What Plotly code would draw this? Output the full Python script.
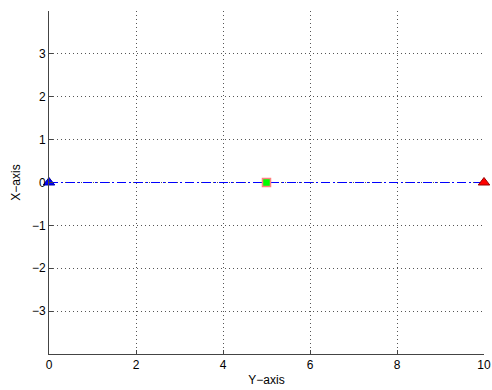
import plotly.graph_objects as go

# Path from start to end along the horizontal line
path_x = [0, 10]
path_y = [0, 0]

# Marked points: start, midpoint, end
start_pt = (0, 0)
mid_pt = (5, 0)
end_pt = (10, 0)

x_ticks = [0, 2, 4, 6, 8, 10]
y_ticks = [-3, -2, -1, 0, 1, 2, 3]

fig = go.Figure()

fig.add_trace(go.Scatter(
    x=path_x, y=path_y, mode="lines",
    line=dict(color="#0000ff", width=1, dash="9px,3px,2px,3px"),
    cliponaxis=False, showlegend=False,
))
fig.add_trace(go.Scatter(
    x=[start_pt[0]], y=[start_pt[1]], mode="markers",
    marker=dict(symbol="triangle-up", size=10, color="#0000ff",
                line=dict(color="#0000aa", width=1)),
    cliponaxis=False, showlegend=False,
))
fig.add_trace(go.Scatter(
    x=[mid_pt[0]], y=[mid_pt[1]], mode="markers",
    marker=dict(symbol="square", size=8, color="#00ff00",
                line=dict(color="#ff8080", width=1.5)),
    cliponaxis=False, showlegend=False,
))
fig.add_trace(go.Scatter(
    x=[end_pt[0]], y=[end_pt[1]], mode="markers",
    marker=dict(symbol="triangle-up", size=10, color="#ff0000",
                line=dict(color="#990000", width=1)),
    cliponaxis=False, showlegend=False,
))

font = dict(family="Liberation Sans, Arial, sans-serif", size=12, color="#000000")

axis_common = dict(
    showline=True, linecolor="#444444", linewidth=1, mirror=False,
    ticks="inside", ticklen=4, tickcolor="#444444",
    showgrid=True, gridcolor="#555555", gridwidth=1, griddash="1px,3px",
    zeroline=False, automargin=False,
    tickfont=font,
)

fig.update_xaxes(
    range=[0, 10], tickvals=x_ticks,
    title=dict(text="Y\u2212axis", standoff=4, font=font),
    **axis_common,
)
fig.update_yaxes(
    range=[-4, 4], tickvals=y_ticks,
    title=dict(text="X\u2212axis", standoff=8, font=font),
    **axis_common,
)

fig.update_layout(
    width=492, height=390,
    margin=dict(l=49, r=8, t=11, b=36),
    plot_bgcolor="#ffffff", paper_bgcolor="#ffffff",
)

fig.write_html("out.html")
